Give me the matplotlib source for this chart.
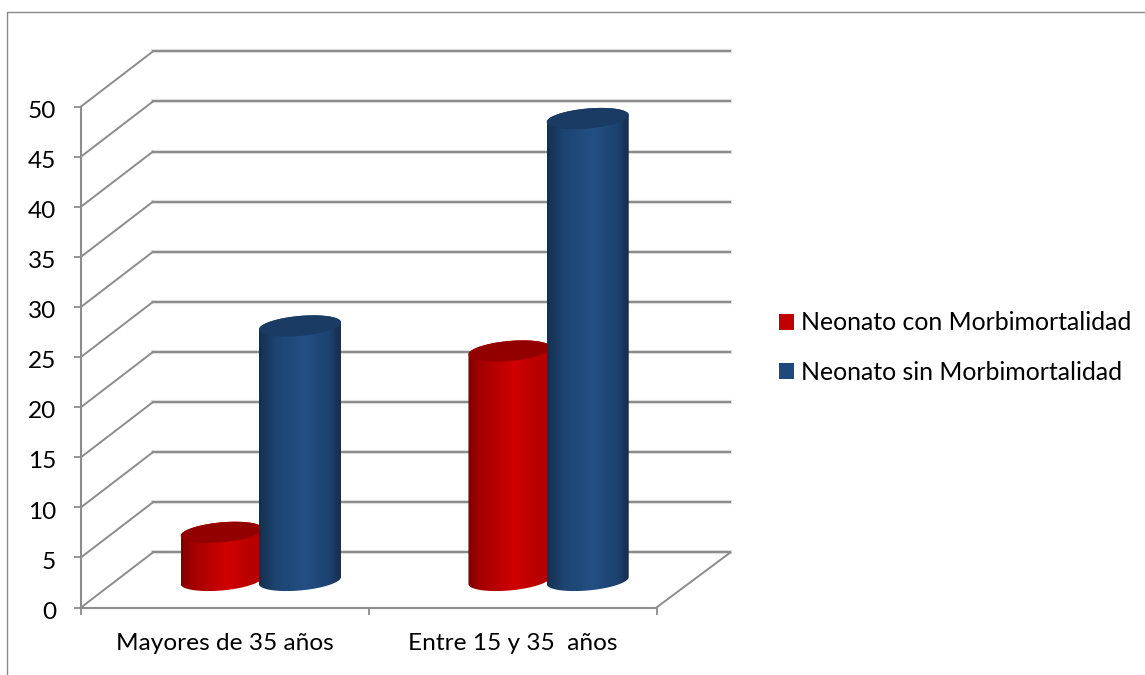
import matplotlib
matplotlib.use('Agg')
import matplotlib.pyplot as plt
import matplotlib.patheffects as pe
import matplotlib.transforms as mtrans
import numpy as np
from matplotlib.colors import LinearSegmentedColormap
from matplotlib.lines import Line2D
from matplotlib.patches import Patch, Polygon

categories = ['Mayores de 35 años', 'Entre 15 y 35  años']
series_names = ['Neonato con Morbimortalidad', 'Neonato sin Morbimortalidad']
con_morbi = [4.8, 22.9]
sin_morbi = [25.4, 46.1]
y_ticks = [0, 5, 10, 15, 20, 25, 30, 35, 40, 45, 50]

GRAY = '#8c8c8c'
RED = '#c00000'
BLUE = '#1f497d'
RED_TOP = '#930000'
BLUE_TOP = '#1a3b63'
FONT_SIZE = 17.6

# depth of the fake 3d box, in data units
DEPTH_X = 0.25
DEPTH_X_RIGHT = 0.257
DEPTH_Y = 5.5
BAR_HALF = 0.1425
BAR_OFFSET = 0.136
CAP_B = 1.0
CAP_TILT = 0.35

red_cmap = LinearSegmentedColormap.from_list('red', [(0, '#7c0000'), (0.12, '#a00000'), (0.55, '#d00000'), (0.85, '#b80000'), (1, '#b00000')])
blue_cmap = LinearSegmentedColormap.from_list('blue', [(0, '#15304f'), (0.2, '#1d4472'), (0.55, '#234f84'), (0.85, '#1c4270'), (1, '#142b47')])
soft_line = [pe.Stroke(linewidth=3, foreground='#e2e2e2'), pe.Normal()]


def ellipse_points(cx, yc, t):
    return np.column_stack([cx + BAR_HALF * np.cos(t), yc + CAP_B * np.sin(t) + CAP_TILT * np.cos(t)])


def draw_cylinder(ax, cx, value, cmap, top_color, zorder):
    base = 2.7
    top = base + value
    t_low = np.linspace(np.pi, 2 * np.pi, 60)
    t_high = np.linspace(0, np.pi, 60)
    outline = np.vstack([ellipse_points(cx, base, t_low), ellipse_points(cx, top, t_high)])
    body = Polygon(outline, closed=True, facecolor='none', edgecolor='none', transform=ax.transData)
    ax.add_patch(body)
    gradient = np.linspace(0, 1, 256).reshape(1, -1)
    img = ax.imshow(gradient, cmap=cmap, aspect='auto', zorder=zorder, interpolation='bilinear',
                    extent=[cx - BAR_HALF, cx + BAR_HALF, base - 2, top + 2])
    img.set_clip_path(body)
    cap = ellipse_points(cx, top, np.linspace(0, 2 * np.pi, 120))
    ax.add_patch(Polygon(cap, closed=True, facecolor=top_color, edgecolor='none', zorder=zorder + 0.1))


plt.rcParams['font.family'] = ['Lato', 'DejaVu Sans']
fig = plt.figure(figsize=(11.45, 6.75), dpi=100)
ax = fig.add_axes([81 / 1145, (675 - 607.5) / 675, 575.5 / 1145, 501 / 675])

# outer chart border, only left and top show
fig.add_artist(Line2D([6.5 / 1145, 6.5 / 1145, 1], [0, 1 - 11.5 / 675, 1 - 11.5 / 675],
                      color='#8a8a8a', lw=1.0))

n = len(categories)
for v in y_ticks:
    ax.plot([DEPTH_X, n + DEPTH_X_RIGHT], [v + DEPTH_Y, v + DEPTH_Y], color=GRAY, lw=1.5, clip_on=False, zorder=1,
            path_effects=soft_line)
    ax.plot([0, DEPTH_X], [v, v + DEPTH_Y], color=GRAY, lw=1.4, clip_on=False, zorder=1.5)
ax.plot([n, n + DEPTH_X_RIGHT], [0, DEPTH_Y], color=GRAY, lw=1.4, clip_on=False, zorder=1.5)

for i in range(n):
    cx = i + 0.5 + DEPTH_X / 2
    draw_cylinder(ax, cx - BAR_OFFSET, con_morbi[i], red_cmap, RED_TOP, 3)
    draw_cylinder(ax, cx + BAR_OFFSET, sin_morbi[i], blue_cmap, BLUE_TOP, 4)

ax.set_xlim(0, n)
ax.set_ylim(0, 50)
ax.patch.set_alpha(0)
for side in ['top', 'right']:
    ax.spines[side].set_visible(False)
for side in ['left', 'bottom']:
    ax.spines[side].set_color(GRAY)
    ax.spines[side].set_linewidth(1.5)

ax.set_yticks(y_ticks)
ax.tick_params(axis='y', direction='out', length=5, width=1.3, color=GRAY, pad=13, labelsize=FONT_SIZE, labelcolor='black')
# y labels sit slightly under their ticks
label_shift = mtrans.ScaledTranslation(0, -2 / 72, fig.dpi_scale_trans)
for label in ax.get_yticklabels():
    label.set_transform(label.get_transform() + label_shift)

ax.set_xticks(np.arange(n + 1))
ax.set_xticklabels([])
ax.set_xticks(np.arange(n) + 0.5, minor=True)
ax.set_xticklabels(categories, minor=True)
ax.tick_params(axis='x', which='major', direction='out', length=5, width=1.3, color=GRAY)
ax.tick_params(axis='x', which='minor', length=0, pad=18, labelsize=FONT_SIZE, labelcolor='black')

handles = [Patch(facecolor=RED, label=series_names[0]), Patch(facecolor=BLUE, label=series_names[1])]
fig.legend(handles=handles, loc='center left', bbox_to_anchor=(779 / 1145, 1 - 347.5 / 675), frameon=False,
           fontsize=17.9, handlelength=0.6, handleheight=0.6, handletextpad=0.3, labelspacing=1.05,
           borderpad=0, borderaxespad=0, labelcolor='black')

fig.savefig('out.png', dpi=100)
